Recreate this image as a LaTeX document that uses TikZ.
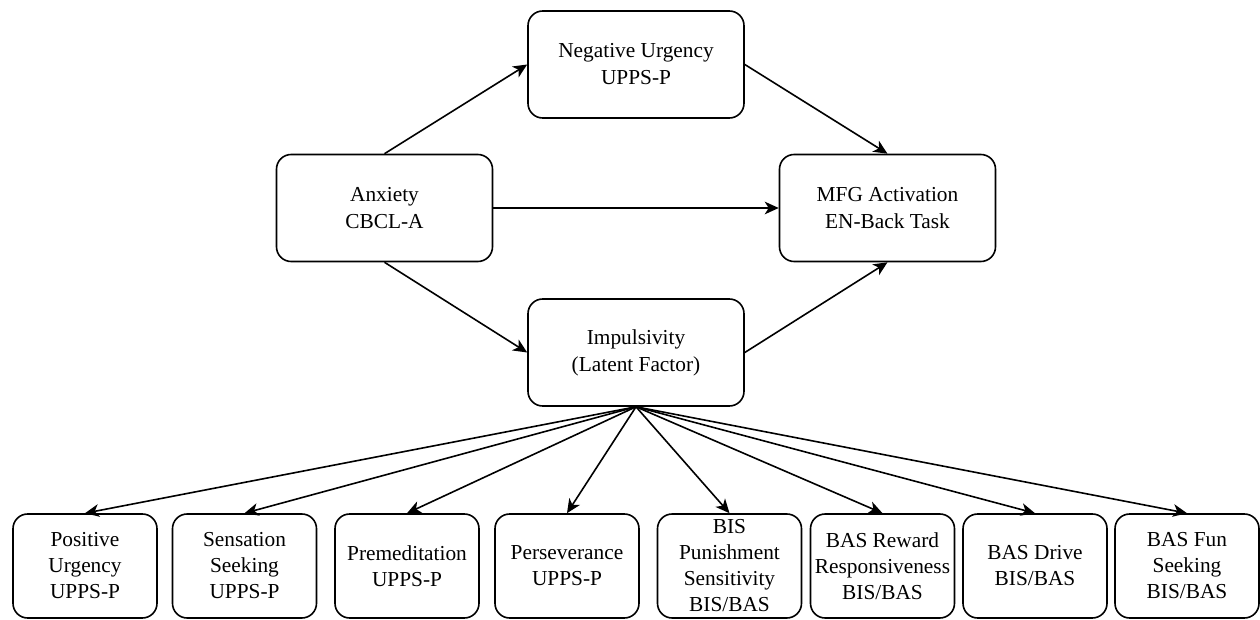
\documentclass[tikz,border=0pt]{standalone}
\usepackage{fontspec}
\setmainfont{Liberation Serif}
\usetikzlibrary{arrows.meta}

\begin{document}
\begin{tikzpicture}[
  x=0.75pt, y=-0.75pt,
  box/.style={draw, line width=1.2pt, rounded corners=11pt, align=center,
    inner sep=0pt},
  bigbox/.style={box, minimum width=162pt, minimum height=80.25pt,
    font=\fontsize{16pt}{20.25pt}\selectfont},
  smallbox/.style={box, minimum width=108pt, minimum height=78pt,
    font=\fontsize{16pt}{19.5pt}\selectfont},
  link/.style={line width=1.2pt, -{Stealth[length=10.5pt, width=9.5pt, inset=3pt]}}
]
\useasboundingbox (0,0) rectangle (1260,620);

% mediation model
\node[bigbox] (neg) at (636,64.5)  {Negative Urgency\\UPPS-P};
\node[bigbox] (anx) at (384.5,208) {Anxiety\\CBCL-A};
\node[bigbox] (mfg) at (887.5,208) {MFG Activation\\EN-Back Task};
\node[bigbox] (imp) at (636,352.5) {Impulsivity\\(Latent Factor)};

% indicators of the latent factor
\node[smallbox] (b1) at (85,566)     {Positive\\Urgency\\UPPS-P};
\node[smallbox] (b2) at (244.5,566)  {Sensation\\Seeking\\UPPS-P};
\node[smallbox] (b3) at (407,566)    {Premeditation\\UPPS-P};
\node[smallbox] (b4) at (567,566)    {Perseverance\\UPPS-P};
\node[smallbox] (b5) at (729.5,566)  {BIS\\Punishment\\Sensitivity\\BIS/BAS};
\node[smallbox] (b6) at (882.5,566)  {BAS Reward\\Responsiveness\\BIS/BAS};
\node[smallbox] (b7) at (1035,566)   {BAS Drive\\BIS/BAS};
\node[smallbox] (b8) at (1187,566)   {BAS Fun\\Seeking\\BIS/BAS};

% paths
\draw[link] (anx.north) -- (neg.west);
\draw[link] (anx.south) -- (imp.west);
\draw[link] (anx.east)  -- (mfg.west);
\draw[link] (neg.east)  -- (mfg.north);
\draw[link] (imp.east)  -- (mfg.south);

\foreach \b in {b1,b2,b3,b4,b5,b6,b7,b8}
  \draw[link] (imp.south) -- (\b.north);
\end{tikzpicture}
\end{document}
